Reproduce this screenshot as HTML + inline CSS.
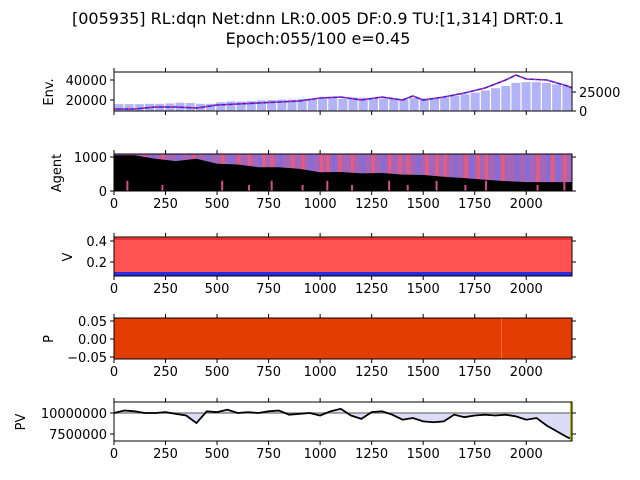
<!DOCTYPE html>
<html><head><meta charset="utf-8"><style>
body{margin:0;background:#fff;}
svg{display:block;font-family:"DejaVu Sans","Liberation Sans",sans-serif;}
</style></head><body>
<svg id="c" width="640" height="480" viewBox="0 0 640 480">
<text x="318" y="24" font-size="16" text-anchor="middle">[005935] RL:dqn Net:dnn LR:0.005 DF:0.9 TU:[1,314] DRT:0.1</text>
<text x="318" y="44" font-size="16" text-anchor="middle">Epoch:055/100 e=0.45</text>
<g id="g"></g>
</svg>
<script>
const xTicks=[0,250,500,750,1000,1250,1500,1750,2000];
const priceSteps=[0,100,200,300,400,500,600,700,800,900,1000,1100,1200,1300,1400,1450,1500,1600,1700,1800,1900,1950,2000,2100,2200,2222];
const priceVals=[11000,11000,13000,13000,12000,15000,16000,17000,18000,19000,22000,23000,20000,23000,20000,24000,20000,23000,27000,32000,40000,45000,41000,40000,34000,32000];
const volVals=[9000,9000,9000,9500,9500,10000,11000,10500,9500,9500,11500,12500,12500,13000,14000,14500,15000,15000,16000,16500,17000,17500,16000,18000,17500,17000,16500,16000,15000,17000,16500,17000,18000,20000,22000,24000,27000,30000,33000,37000,38000,38000,37000,35000,33000];
const cashSteps=[0,100,200,300,400,500,600,700,800,900,1000,1100,1200,1300,1400,1500,1600,1700,1800,1900,2000,2100,2222];
const cashVals=[1050,1050,950,880,950,800,780,700,700,650,550,560,520,530,480,470,420,380,330,290,260,260,260];
const redStripes=[60,140,230,380,520,600,650,720,760,860,910,1000,1030,1090,1150,1250,1330,1380,1420,1510,1560,1600,1700,1760,1800,1880,2050,2120,2180];
const blueStripes=[20,180,300,450,560,700,800,950,1060,1200,1300,1470,1650,1730,1850,1950,2000,2100,2150];
const pvSteps=[0,50,100,150,200,250,300,350,400,450,500,550,600,650,700,750,800,850,900,950,1000,1050,1100,1150,1200,1250,1300,1350,1400,1450,1500,1550,1600,1650,1700,1750,1800,1850,1900,1950,2000,2050,2100,2150,2200,2222];
const pvVals=[10.0,10.3,10.2,10.0,10.0,10.1,9.9,9.7,8.8,10.2,10.1,10.4,10.0,10.1,10.0,10.2,10.3,9.8,9.9,10.0,9.7,10.2,10.5,9.7,9.3,10.1,10.2,9.8,9.2,9.4,9.0,8.9,9.0,9.8,9.5,9.7,9.8,9.7,9.8,9.6,9.2,9.4,8.5,7.8,7.1,6.9];
const ns="http://www.w3.org/2000/svg",G=document.getElementById('g');
const X0=114,X1=572,XMAX=2222;
const xs=v=>X0+v*(X1-X0)/XMAX;
function el(t,a,p){const e=document.createElementNS(ns,t);for(const k in a)e.setAttribute(k,a[k]);(p||G).appendChild(e);return e;}
function lin(d0,d1,r0,r1){return v=>r0+(v-d0)*(r1-r0)/(d1-d0);}
function frame(top,bot,name){const r=el('rect',{x:X0,y:top,width:X1-X0,height:bot-top,fill:'none',stroke:'#000','stroke-width':1});}
function xaxis(top,bot,labels,name){xTicks.forEach(t=>{const x=xs(t);el('line',{x1:x,x2:x,y1:bot,y2:bot+4,stroke:'#000'});el('line',{x1:x,x2:x,y1:top,y2:top-4,stroke:'#000'});if(labels){const tx=el('text',{x:x,y:bot+17,'font-size':13,'text-anchor':'middle'});tx.textContent=t;}});}
function yaxis(ticks,labs,sc,name,right){ticks.forEach((t,i)=>{const y=sc(t);el('line',{x1:X0-4,x2:X0,y1:y,y2:y,stroke:'#000'});if(right)el('line',{x1:X1,x2:X1+4,y1:y,y2:y,stroke:'#000'});const tx=el('text',{x:X0-7,y:y+5,'font-size':13,'text-anchor':'end'});tx.textContent=labs[i];});}
function ylabel(txt,x,y,name){const t=el('text',{x:x,y:y,'font-size':13,'text-anchor':'middle',transform:`rotate(-90 ${x} ${y})`});t.textContent=txt;}
function pts(st,vals,sy){return st.map((s,i)=>xs(s)+','+sy(vals[i])).join(' ');}
// Panel 1 Env
{const T=72,B=111,sy=lin(9000,48000,B,T),sv=lin(0,25000,B,92);
const bw=(X1-X0)/volVals.length;
volVals.forEach((v,i)=>{const r=el('rect',{x:X0+i*bw+0.5,y:sv(v),width:bw-1.2,height:B-sv(v),fill:'#b3b3f7'});});
const p=el('polyline',{points:pts(priceSteps,priceVals,sy),fill:'none',stroke:'#2020ff','stroke-width':1.6});
el('polyline',{points:pts(priceSteps,priceVals,sy),fill:'none',stroke:'#ff2040','stroke-width':1.2,'stroke-dasharray':'3 4'});
frame(T,B,'env');xaxis(T,B,false,'env');
yaxis([40000,20000],['40000','20000'],sy,'env',false);
[[25000,'25000'],[0,'0']].forEach(([v,l])=>{const y=sv(v);el('line',{x1:X1,x2:X1+4,y1:y,y2:y,stroke:'#000'});const t=el('text',{x:X1+7,y:y+5,'font-size':13});t.textContent=l;});
ylabel('Env.',53,92,'env-y-label');}
// Panel 2 Agent
{const T=154,B=191,sy=lin(0,1000,B,157);
const bg=el('rect',{x:X0,y:T,width:X1-X0,height:B-T,fill:'#a466b8'});
redStripes.forEach(s=>{const r=el('rect',{x:xs(s),y:T,width:3,height:B-T,fill:'#ec5a78'});});
blueStripes.forEach(s=>{const r=el('rect',{x:xs(s),y:T,width:3,height:B-T,fill:'#7a6ee0'});});
const a=el('polygon',{points:xs(0)+','+B+' '+pts(cashSteps,cashVals,sy)+' '+xs(XMAX)+','+B,fill:'#000'});
redStripes.forEach((s,i)=>{if(i%2==0){const h=i%4==0?300:180;const r=el('rect',{x:xs(s),y:sy(h),width:2,height:B-sy(h),fill:'#d0508a'});}});
frame(T,B,'agent');xaxis(T,B,true,'agent');
yaxis([1000,0],['1000','0'],sy,'agent',true);ylabel('Agent',61,173,'agent-y-label');}
// Panel 3 V
{const T=237,B=276,sy=lin(0.2,0.4,262,241);
const r=el('rect',{x:X0,y:T,width:X1-X0,height:B-T,fill:'#ff5252'});
const b=el('rect',{x:X0,y:272,width:X1-X0,height:4,fill:'#2a2ae0'});
el('line',{x1:X0,x2:X1,y1:239,y2:239,stroke:'#e02828','stroke-width':1.5});
frame(T,B,'v');xaxis(T,B,true,'v');
yaxis([0.4,0.2],['0.4','0.2'],sy,'v',true);ylabel('V',72,257,'v-y-label');}
// Panel 4 P
{const T=318,B=359,sy=lin(-0.05,0.05,357,321);
const r=el('rect',{x:X0,y:T,width:X1-X0,height:B-T,fill:'#e33d04'});
el('line',{x1:xs(1880),x2:xs(1880),y1:T,y2:B,stroke:'#ff6a40','stroke-width':1});
frame(T,B,'p');xaxis(T,B,true,'p');
yaxis([0.05,0,-0.05],['0.05','0.00','\u22120.05'],sy,'p',true);ylabel('P',53,339,'p-y-label');}
// Panel 5 PV
{const T=402,B=441,sy=lin(7.5,10,434,413);
const base=sy(10);
const f=el('polygon',{points:xs(0)+','+base+' '+pts(pvSteps,pvVals,sy)+' '+xs(XMAX)+','+base,fill:'#dcdcf8'});
el('line',{x1:X0,x2:X1,y1:base,y2:base,stroke:'#888','stroke-width':1.5});
const l=el('polyline',{points:pts(pvSteps,pvVals,sy),fill:'none',stroke:'#000','stroke-width':1.8});
el('line',{x1:X1-1,x2:X1-1,y1:T,y2:B,stroke:'#b0b000','stroke-width':2});
frame(T,B,'pv');xaxis(T,B,true,'pv');
yaxis([10,7.5],['10000000','7500000'],sy,'pv',true);ylabel('PV',25,422,'pv-y-label');}
</script>
</body></html>
